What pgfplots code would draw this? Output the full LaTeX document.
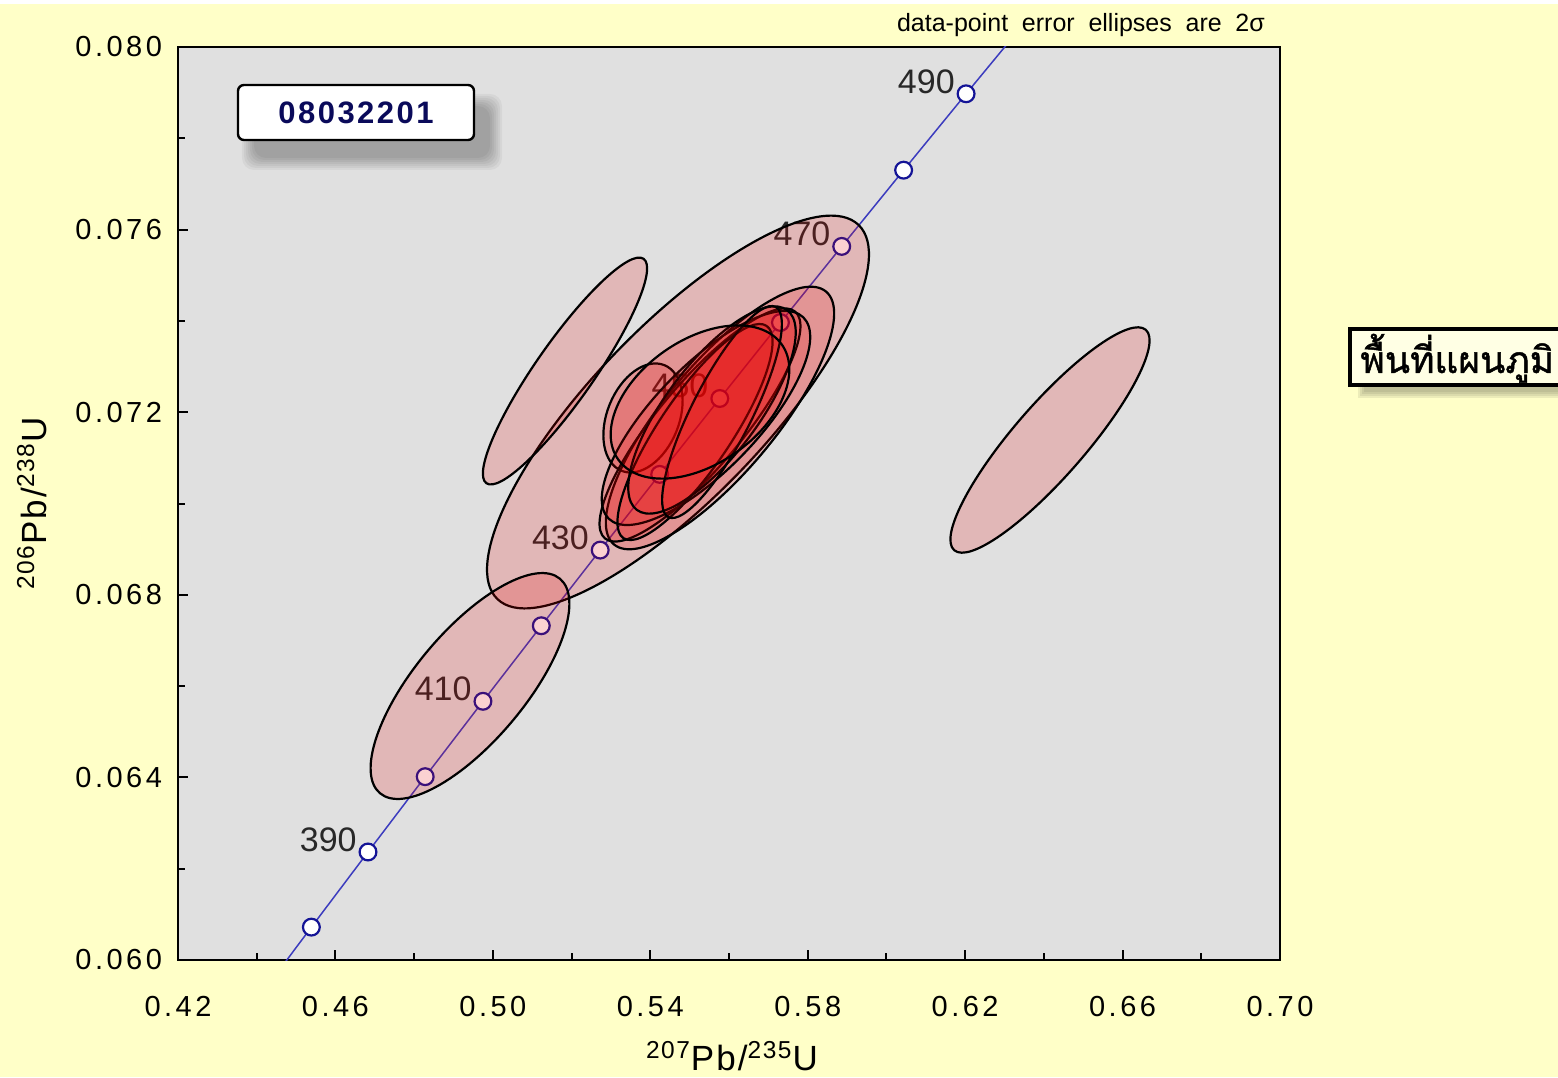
\documentclass[border=0pt]{standalone}
\usepackage{pgfplots}
\pgfplotsset{compat=1.18}
\usepackage{pgfplotstable}
\usepackage{fontspec}
\setmainfont{Liberation Sans}
\newfontfamily\tickfont[LetterSpace=12]{Liberation Sans}
\newfontfamily\labfont[LetterSpace=6]{Liberation Sans}
\newfontfamily\boxfont[LetterSpace=8]{Liberation Sans}
\newfontfamily\thaifont[Script=Thai, FakeBold=1.2]{Loma}
\definecolor{bgyellow}{RGB}{255,255,200}
\definecolor{plotgray}{RGB}{224,224,224}
\definecolor{ellred}{RGB}{235,0,0}
\definecolor{concblue}{RGB}{60,60,190}
\definecolor{markblue}{RGB}{20,20,150}
\definecolor{thaibox}{RGB}{255,255,228}
\definecolor{labnavy}{RGB}{10,10,90}
\definecolor{labgray}{RGB}{40,40,40}
\pgfdeclareplotmark{nomark}{}

% concordia curve (207Pb/235U, 206Pb/238U) every 10 Ma
\pgfplotstableread{
t x y
370 0.439642 0.059075
380 0.453890 0.060720
390 0.468279 0.062366
400 0.482812 0.064016
410 0.497486 0.065667
420 0.512308 0.067322
430 0.527275 0.068979
440 0.542391 0.070638
450 0.557657 0.072300
460 0.573073 0.073965
470 0.588643 0.075632
480 0.604367 0.077302
490 0.620243 0.078975
500 0.636281 0.080650
}\concordia

\pgfplotstableread{
t x y
380 0.453890 0.060720
390 0.468279 0.062366
400 0.482812 0.064016
410 0.497486 0.065667
420 0.512308 0.067322
430 0.527275 0.068979
440 0.542391 0.070638
450 0.557657 0.072300
460 0.573073 0.073965
470 0.588643 0.075632
480 0.604367 0.077302
490 0.620243 0.078975
}\concmarks

\pgfplotstableread{
x y lab
0.468279 0.062366 390
0.497486 0.065667 410
0.527275 0.068979 430
0.557657 0.072300 450
0.588643 0.075632 470
0.620243 0.078975 490
}\agelabels

% error ellipses: centre (x,y), semi-axes a,b (pt), angle (deg)
\pgfplotstableread{
x y a b ang
0.547042 0.072004 130 43 46
0.518330 0.072902 68.5 14.5 55
0.494192 0.066002 70 27.5 50
0.641560 0.071391 73 18 49
0.538149 0.071873 28.5 18 68
0.557713 0.071873 82.5 27.5 50
0.552632 0.071720 74 21 50
0.554156 0.071873 70 26 46
0.551361 0.071566 64 18 56
0.555680 0.072048 62.5 23 53
0.558221 0.072004 59 15 63
0.552632 0.072223 50 31 35
}\ellipses

\begin{document}
\begin{tikzpicture}
\fill[bgyellow] (-89pt,-58.5pt) rectangle (690pt,480pt);
\fill[white] (-89pt,478pt) rectangle (690pt,480pt);
\begin{axis}[
  at={(0pt,0pt)}, anchor=south west,
  width=551pt, height=456.5pt, scale only axis,
  xmin=0.42, xmax=0.70, ymin=0.060, ymax=0.080,
  enlargelimits=false,
  axis background/.style={fill=plotgray},
  axis line style={line width=1.4pt},
  tick pos=left, tick align=inside,
  major tick length=5pt, minor tick length=3.5pt,
  every tick/.style={black, line width=1pt},
  xtick={0.42,0.46,0.50,0.54,0.58,0.62,0.66,0.70},
  minor xtick={0.44,0.48,0.52,0.56,0.60,0.64,0.68},
  ytick={0.060,0.064,0.068,0.072,0.076,0.080},
  minor ytick={0.062,0.066,0.070,0.074,0.078},
  scaled ticks=false,
  /pgf/number format/assume math mode=true,
  tick label style={font=\tickfont\fontsize{14.5}{16}\selectfont},
  xticklabel style={/pgf/number format/.cd, fixed, fixed zerofill, precision=2, /tikz/.cd, yshift=-14.5pt},
  yticklabel style={/pgf/number format/.cd, fixed, fixed zerofill, precision=3, /tikz/.cd, xshift=-4.5pt},
  xlabel={\textsuperscript{207}Pb/\textsuperscript{235}U},
  ylabel={\textsuperscript{206}Pb/\textsuperscript{238}U},
  label style={font=\labfont\fontsize{17.5}{18}\selectfont},
  xlabel style={at={(axis description cs:0.5027,-0.1051)}, anchor=center},
  ylabel style={at={(axis description cs:-0.1325,0.5)}, anchor=center},
  title={data-point\hspace{0.55em}error\hspace{0.55em}ellipses\hspace{0.55em}are\hspace{0.55em}2σ},
  title style={at={(axis description cs:0.8194,1.0033)}, anchor=base, font=\fontsize{12.5}{13}\selectfont, inner sep=0pt},
]
% concordia
\addplot[concblue, line width=0.75pt, no marks] table[x=x, y=y] {\concordia};
\addplot[only marks, mark=*, mark size=4.2pt, mark options={fill=white, draw=markblue, line width=1.1pt}] table[x=x, y=y] {\concmarks};
\addplot[only marks, mark=nomark, nodes near coords, point meta=explicit symbolic,
  every node near coord/.append style={anchor=south east, inner sep=0pt, xshift=-5.5pt, font=\fontsize{17}{17}\selectfont, text=labgray}]
  table[x=x, y=y, meta=lab] {\agelabels};
% ellipses
\addplot[scatter, only marks, mark=nomark, point meta=\thisrow{a},
  visualization depends on={\thisrow{a} \as \ellA},
  visualization depends on={\thisrow{b} \as \ellB},
  visualization depends on={\thisrow{ang} \as \ellT},
  scatter/@pre marker code/.code={%
    \pgfscope
    \pgftransformrotate{\ellT}%
    \pgfsetfillcolor{ellred}\pgfsetfillopacity{0.18}%
    \pgfsetstrokecolor{black}\pgfsetlinewidth{1.1pt}%
    \pgfpathellipse{\pgfpointorigin}{\pgfpoint{\ellA pt}{0pt}}{\pgfpoint{0pt}{\ellB pt}}%
    \pgfusepath{fill,stroke}%
    \endpgfscope},
  scatter/@post marker code/.code={},
] table[x=x, y=y] {\ellipses};
\end{axis}
% sample label with soft shadow
\foreach \s in {0,1,2,3,4,5,6}{
  \fill[black, opacity=0.045, rounded corners=6pt]
    (32pt+\s pt,395pt+\s pt) rectangle (162pt-\s pt,433pt-\s pt);
}
\draw[line width=1.2pt, fill=white, rounded corners=3pt] (30pt,410pt) rectangle (148pt,437.5pt);
\node[font=\boxfont\bfseries\fontsize{15.5}{16}\selectfont, text=labnavy] at (89pt,423.75pt) {08032201};
% Thai box
\foreach \s in {0,1,2,3}{
  \fill[black!60!bgyellow, opacity=0.12] (590pt+\s pt,281pt+\s pt) rectangle (730pt,311pt);
}
\draw[line width=1.6pt, fill=thaibox] (586pt,287.5pt) rectangle (740pt,315.5pt);
\node[anchor=base west, inner sep=0pt, font=\thaifont\fontsize{18.5}{18}\selectfont] at (591pt,293.5pt) {พื้นที่แผนภูมิ};
\pgfresetboundingbox
\useasboundingbox (-89pt,-58.5pt) rectangle (690pt,480pt);
\end{tikzpicture}
\end{document}
